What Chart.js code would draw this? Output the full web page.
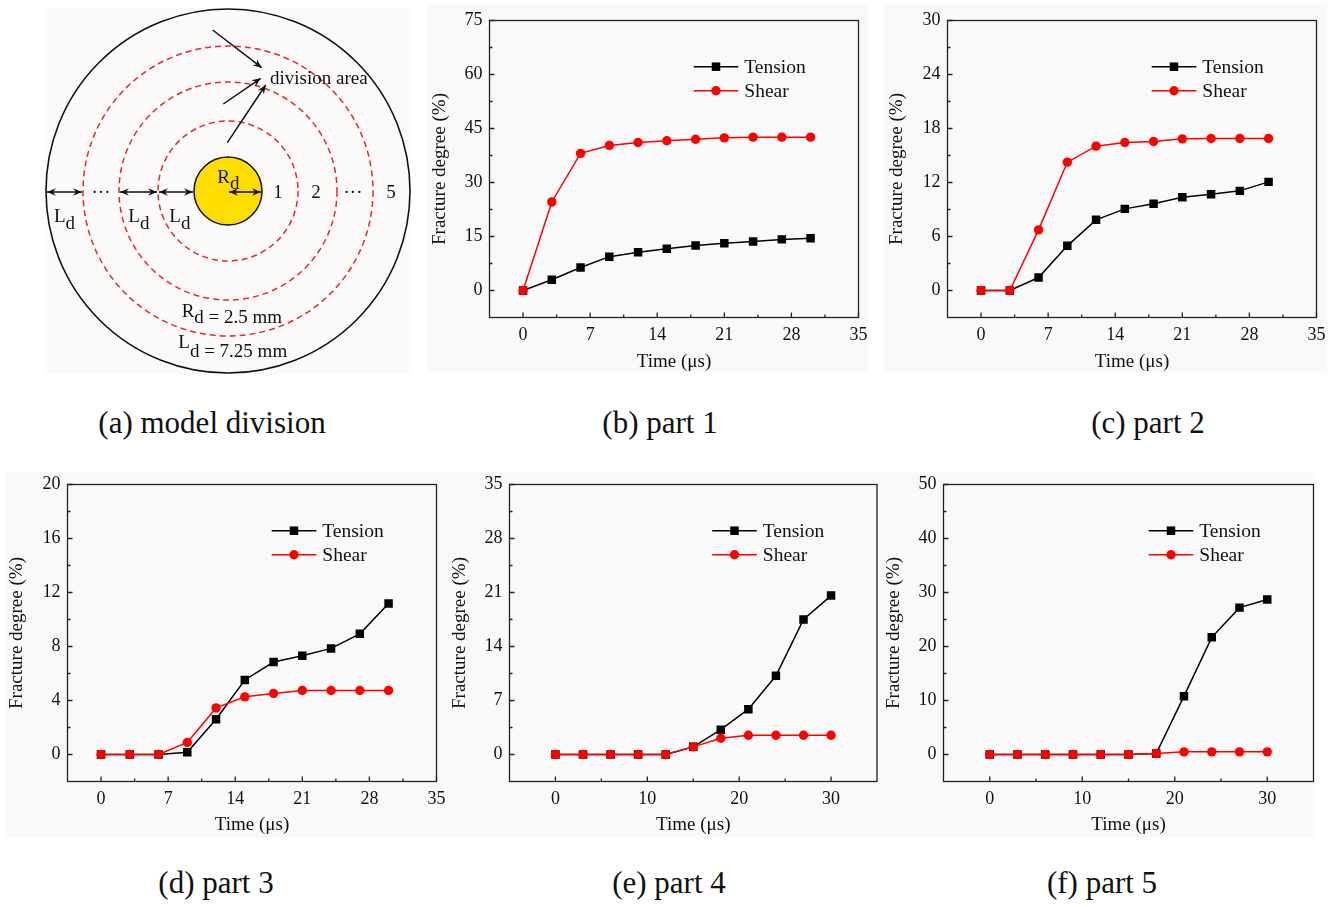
<!DOCTYPE html>
<html><head><meta charset="utf-8">
<script src="https://cdn.jsdelivr.net/npm/chart.js@4.4.1/dist/chart.umd.min.js"></script>
<style>
html,body{margin:0;padding:0;background:#fff;}
body{width:1339px;height:907px;position:relative;overflow:hidden;font-family:"Liberation Serif","Times New Roman",serif;}
.bg{position:absolute;background:#f9f9f9;}
canvas{position:absolute;}
.cap{position:absolute;font-size:31px;line-height:31px;color:#111;white-space:nowrap;transform:translateX(-50%);}
</style></head><body>
<div class="bg" style="left:45px;top:8px;width:366px;height:366px;background:#fcf9f9"></div>
<div class="bg" style="left:427px;top:3px;width:441px;height:370px"></div>
<div class="bg" style="left:884px;top:3px;width:443px;height:370px"></div>
<div class="bg" style="left:5px;top:472px;width:445px;height:366px"></div>
<div class="bg" style="left:447px;top:472px;width:436px;height:366px"></div>
<div class="bg" style="left:880px;top:472px;width:434px;height:366px"></div>

<canvas id="ca" width="366" height="366" style="left:45px;top:8px"></canvas>
<canvas id="cb"></canvas><canvas id="cc"></canvas><canvas id="cd"></canvas><canvas id="ce"></canvas><canvas id="cf"></canvas>

<div class="cap" style="left:212px;top:407px">(a) model division</div>
<div class="cap" style="left:660px;top:407px">(b) part 1</div>
<div class="cap" style="left:1148px;top:407px">(c) part 2</div>
<div class="cap" style="left:216px;top:867px">(d) part 3</div>
<div class="cap" style="left:669px;top:867px">(e) part 4</div>
<div class="cap" style="left:1102px;top:867px">(f) part 5</div>

<script>
// ---------------- data ----------------
const timeUs = [0, 3, 6, 9, 12, 15, 18, 21, 24, 27, 30];
const seriesNames = ['Tension', 'Shear'];

const tension1 = [0, 3.0, 6.4, 9.4, 10.6, 11.6, 12.5, 13.1, 13.6, 14.2, 14.5];
const shear1   = [0, 24.6, 38.1, 40.3, 41.1, 41.6, 42.0, 42.4, 42.6, 42.6, 42.6];
const tension2 = [0, 0, 1.44, 4.96, 7.85, 9.07, 9.63, 10.37, 10.7, 11.07, 12.07];
const shear2   = [0, 0, 6.74, 14.26, 16.04, 16.44, 16.56, 16.85, 16.89, 16.89, 16.89];
const tension3 = [0, 0, 0, 0.17, 2.61, 5.52, 6.85, 7.31, 7.86, 8.94, 11.18];
const shear3   = [0, 0, 0, 0.89, 3.45, 4.27, 4.52, 4.74, 4.74, 4.74, 4.74];
const tension4 = [0, 0, 0, 0, 0, 0.99, 3.22, 5.88, 10.2, 17.5, 20.6];
const shear4   = [0, 0, 0, 0, 0, 0.99, 2.1, 2.49, 2.49, 2.49, 2.49];
const tension5 = [0, 0, 0, 0, 0, 0, 0.18, 10.8, 21.7, 27.2, 28.7];
const shear5   = [0, 0, 0, 0, 0, 0, 0.18, 0.49, 0.49, 0.49, 0.49];

const xTicks7  = [0, 7, 14, 21, 28, 35];
const xTicks10 = [0, 10, 20, 30];
const yTicks1 = [0, 15, 30, 45, 60, 75];
const yTicks2 = [0, 6, 12, 18, 24, 30];
const yTicks3 = [0, 4, 8, 12, 16, 20];
const yTicks4 = [0, 7, 14, 21, 28, 35];
const yTicks5 = [0, 10, 20, 30, 40, 50];

// diagram (a) values, in schematic units
const coreRadius = 34;
const ringRadii = [70, 109, 145];
const outerRadius = 182;
const ringLabels = ['1', '2', '\u00B7\u00B7\u00B7', '5'];

// ---------------- setup ----------------
const FONT = "'Liberation Serif', 'Times New Roman', serif";
Chart.defaults.font.family = FONT;
Chart.defaults.color = '#111';

const TXT = '#111';

const framePlugin = {
  id: 'frame',
  beforeDatasetsDraw(chart) {
    const {ctx, chartArea: a, scales: {x, y}} = chart;
    ctx.save();
    ctx.strokeStyle = '#222';
    ctx.lineWidth = 1.3;
    ctx.strokeRect(a.left, a.top, a.right - a.left, a.bottom - a.top);
    const xt = x.ticks.map(t => t.value), yt = y.ticks.map(t => t.value);
    const mid = arr => arr.slice(0, -1).map((v, i) => (v + arr[i + 1]) / 2);
    ctx.beginPath();
    xt.forEach(v => { const px = x.getPixelForValue(v); ctx.moveTo(px, a.bottom); ctx.lineTo(px, a.bottom - 5); });
    mid(xt).forEach(v => { const px = x.getPixelForValue(v); ctx.moveTo(px, a.bottom); ctx.lineTo(px, a.bottom - 3); });
    yt.forEach(v => { const py = y.getPixelForValue(v); ctx.moveTo(a.left, py); ctx.lineTo(a.left + 5, py); });
    mid(yt).forEach(v => { const py = y.getPixelForValue(v); ctx.moveTo(a.left, py); ctx.lineTo(a.left + 3, py); });
    ctx.stroke();
    ctx.restore();
  }
};

function drawMarker(ctx, style, r, x, y, color) {
  ctx.fillStyle = color;
  if (style === 'rect') {
    const s = Math.SQRT1_2 * r;
    ctx.fillRect(x - s, y - s, 2 * s, 2 * s);
  } else {
    ctx.beginPath(); ctx.arc(x, y, r, 0, Math.PI * 2); ctx.fill();
  }
}

const legendPlugin = {
  id: 'innerLegend',
  afterDatasetsDraw(chart) {
    const {ctx, chartArea: a} = chart;
    ctx.save();
    chart.data.datasets.forEach((ds, i) => {
      const yy = a.top + 46.2 + i * 24;
      const x0 = a.right - 164.8, x1 = x0 + 44.6;
      ctx.strokeStyle = ds.borderColor; ctx.lineWidth = ds.borderWidth;
      ctx.beginPath(); ctx.moveTo(x0, yy); ctx.lineTo(x1, yy); ctx.stroke();
      drawMarker(ctx, ds.pointStyle, ds.pointRadius, (x0 + x1) / 2, yy, ds.pointBackgroundColor);
      ctx.fillStyle = TXT;
      ctx.font = '19.5px ' + FONT;
      ctx.textBaseline = 'middle';
      ctx.textAlign = 'left';
      ctx.fillText(ds.label, x1 + 6, yy + 1);
    });
    ctx.restore();
  }
};

function makeLine(p) {
  const el = document.getElementById(p.id);
  const c = p.canvas;
  el.width = c.w; el.height = c.h;
  el.style.left = c.x + 'px'; el.style.top = c.y + 'px';
  const lhT = 19 * 1.2;
  const padLeft = p.yTitleX - c.x - lhT / 2;
  const yW = p.area.l - c.x - padLeft;
  const padTop = p.area.t - c.y;
  const padRight = c.x + c.w - p.area.r;
  const padBottom = c.y + c.h - p.xTitleY - lhT / 2;
  const xH = c.y + c.h - padBottom - p.area.b;
  const pts = arr => timeUs.map((t, i) => ({x: t, y: arr[i]}));
  new Chart(el, {
    type: 'line',
    data: {datasets: [
      {label: seriesNames[0], data: pts(p.tension), borderColor: '#000', backgroundColor: '#000',
       pointBackgroundColor: '#000', pointBorderColor: '#000', pointStyle: 'rect', pointRadius: 6,
       pointBorderWidth: 0, borderWidth: 1.5, order: 1},
      {label: seriesNames[1], data: pts(p.shear), borderColor: '#ff0000', backgroundColor: '#ff0000',
       pointBackgroundColor: '#ff0000', pointBorderColor: '#ff0000', pointStyle: 'circle', pointRadius: 4.7,
       pointBorderWidth: 0, borderWidth: 1.5, order: 0}
    ]},
    options: {
      responsive: false, animation: false, devicePixelRatio: 1,
      layout: {padding: {left: padLeft, top: padTop, right: padRight, bottom: padBottom}},
      plugins: {legend: {display: false}, tooltip: {enabled: false}},
      elements: {line: {tension: 0}},
      scales: {
        x: {
          type: 'linear', position: 'bottom', min: p.x.min, max: p.x.max,
          afterBuildTicks: s => { s.ticks = p.x.ticks.map(v => ({value: v})); },
          afterFit: s => { s.height = xH; },
          grid: {display: false, drawTicks: false}, border: {display: false},
          ticks: {font: {size: 18}, color: TXT, padding: 7, autoSkip: false, maxRotation: 0},
          title: {display: true, text: 'Time (\u03bcs)', font: {size: 19}, padding: 0, color: TXT}
        },
        y: {
          type: 'linear', position: 'left', min: p.y.min, max: p.y.max,
          afterBuildTicks: s => { s.ticks = p.y.ticks.map(v => ({value: v})); },
          afterFit: s => { s.width = yW; },
          grid: {display: false, drawTicks: false}, border: {display: false},
          ticks: {font: {size: 18}, color: TXT, padding: 7, autoSkip: false},
          title: {display: true, text: 'Fracture degree (%)', font: {size: 19}, padding: 0, color: TXT}
        }
      }
    },
    plugins: [framePlugin, legendPlugin]
  });
}

makeLine({id: 'cb', canvas: {x: 427, y: 0, w: 452, h: 373}, area: {l: 489.5, t: 20.5, r: 858.5, b: 317.5},
  yTitleX: 440.5, xTitleY: 362, x: {min: -3.5, max: 35, ticks: xTicks7}, y: {min: -7.5, max: 75, ticks: yTicks1},
  tension: tension1, shear: shear1});
makeLine({id: 'cc', canvas: {x: 884, y: 0, w: 454, h: 373}, area: {l: 947.5, t: 20.5, r: 1316.5, b: 317.5},
  yTitleX: 897.5, xTitleY: 362, x: {min: -3.5, max: 35, ticks: xTicks7}, y: {min: -3, max: 30, ticks: yTicks2},
  tension: tension2, shear: shear2});
makeLine({id: 'cd', canvas: {x: 5, y: 460, w: 456, h: 378}, area: {l: 67.5, t: 484.5, r: 436.5, b: 781.5},
  yTitleX: 17.5, xTitleY: 825.5, x: {min: -3.5, max: 35, ticks: xTicks7}, y: {min: -2, max: 20, ticks: yTicks3},
  tension: tension3, shear: shear3});
makeLine({id: 'ce', canvas: {x: 447, y: 460, w: 436, h: 378}, area: {l: 509.5, t: 484.5, r: 879, b: 781.5},
  yTitleX: 460.5, xTitleY: 825.5, x: {min: -5, max: 35, ticks: xTicks10}, y: {min: -3.5, max: 35, ticks: yTicks4},
  tension: tension4, shear: shear4});
makeLine({id: 'cf', canvas: {x: 880, y: 460, w: 440, h: 378}, area: {l: 943.5, t: 484.5, r: 1313.5, b: 781.5},
  yTitleX: 894.5, xTitleY: 825.5, x: {min: -5, max: 35, ticks: xTicks10}, y: {min: -5, max: 50, ticks: yTicks5},
  tension: tension5, shear: shear5});

// ---------------- diagram (a) ----------------
function arrow(ctx, x1, y1, x2, y2, startHead, endHead) {
  const ang = Math.atan2(y2 - y1, x2 - x1);
  const L = 9, W = 3.8;
  ctx.beginPath(); ctx.moveTo(x1, y1); ctx.lineTo(x2, y2); ctx.stroke();
  const head = (x, y, a) => {
    ctx.beginPath();
    ctx.moveTo(x, y);
    ctx.lineTo(x - L * Math.cos(a) + W * Math.sin(a), y - L * Math.sin(a) - W * Math.cos(a));
    ctx.lineTo(x - 0.65 * L * Math.cos(a), y - 0.65 * L * Math.sin(a));
    ctx.lineTo(x - L * Math.cos(a) - W * Math.sin(a), y - L * Math.sin(a) + W * Math.cos(a));
    ctx.closePath(); ctx.fill();
  };
  if (endHead) head(x2, y2, ang);
  if (startHead) head(x1, y1, ang + Math.PI);
}

const diagramPlugin = {
  id: 'diagram',
  afterDraw(chart) {
    const {ctx} = chart;
    const sx = chart.scales.x, sy = chart.scales.y;
    const X = v => sx.getPixelForValue(v), Y = v => sy.getPixelForValue(v);
    const R = r => Math.abs(X(r) - X(0));
    const cx = X(0), cy = Y(0);
    ctx.save();
    ctx.strokeStyle = '#111'; ctx.lineWidth = 1.6;
    ctx.beginPath(); ctx.arc(cx, cy, R(outerRadius), 0, Math.PI * 2); ctx.stroke();
    ctx.setLineDash([6, 4]); ctx.strokeStyle = '#e8262b'; ctx.lineWidth = 1.5;
    ringRadii.forEach(r => { ctx.beginPath(); ctx.arc(cx, cy, R(r), 0, Math.PI * 2); ctx.stroke(); });
    ctx.setLineDash([]);
    ctx.beginPath(); ctx.arc(cx, cy, R(coreRadius), 0, Math.PI * 2);
    ctx.fillStyle = '#ffdd00'; ctx.fill();
    ctx.strokeStyle = '#111'; ctx.lineWidth = 1.5; ctx.stroke();

    // width arrows between boundaries
    ctx.strokeStyle = '#111'; ctx.fillStyle = '#111'; ctx.lineWidth = 1.6;
    const spans = [[-outerRadius, -ringRadii[2]], [-ringRadii[1], -ringRadii[0]], [-ringRadii[0], -coreRadius], [0, coreRadius]];
    spans.forEach(([a, b]) => arrow(ctx, X(a + 1), Y(-1), X(b - 1), Y(-1), true, true));
    // arrows to "division area"
    ctx.lineWidth = 1.5;
    arrow(ctx, X(-15.3), Y(161), X(33.7), Y(123.3), false, true);
    arrow(ctx, X(-4.7), Y(87), X(32.7), Y(112.7), false, true);
    arrow(ctx, X(-0.7), Y(48.3), X(37.7), Y(106), false, true);

    ctx.fillStyle = TXT;
    ctx.font = '19px ' + FONT;
    ctx.textBaseline = 'alphabetic';
    // ring numbers
    ctx.textAlign = 'center';
    const labelU = [50, 88, 125, 163];
    ringLabels.forEach((t, i) => ctx.fillText(t, X(labelU[i]), Y(-7)));
    ctx.fillText('\u00B7\u00B7\u00B7', X(-127), Y(-7));
    ctx.textAlign = 'left';
    const sub = (main, rest, u, v, drop) => {
      ctx.fillText(main, X(u), Y(v));
      const w = ctx.measureText(main).width;
      ctx.fillText(rest, X(u) + w, Y(v) + drop);
    };
    [-174, -99.7, -58.7].forEach(u => sub('L', 'd', u, -30.7, 7.6));
    sub('R', 'd', -10.7, 8.3, 6.6);
    sub('R', 'd = 2.5 mm', -46.3, -125.7, 6.6);
    sub('L', 'd = 7.25 mm', -49.7, -157.3, 8.4);
    ctx.fillText('division area', X(42), Y(107));
    ctx.restore();
  }
};

new Chart(document.getElementById('ca'), {
  type: 'scatter',
  data: {datasets: [{data: []}]},
  options: {
    responsive: false, animation: false, devicePixelRatio: 1,
    layout: {padding: 0},
    plugins: {legend: {display: false}, tooltip: {enabled: false}},
    scales: {
      x: {type: 'linear', display: false, min: -183, max: 183},
      y: {type: 'linear', display: false, min: -183, max: 183}
    }
  },
  plugins: [diagramPlugin]
});
</script>
</body></html>
